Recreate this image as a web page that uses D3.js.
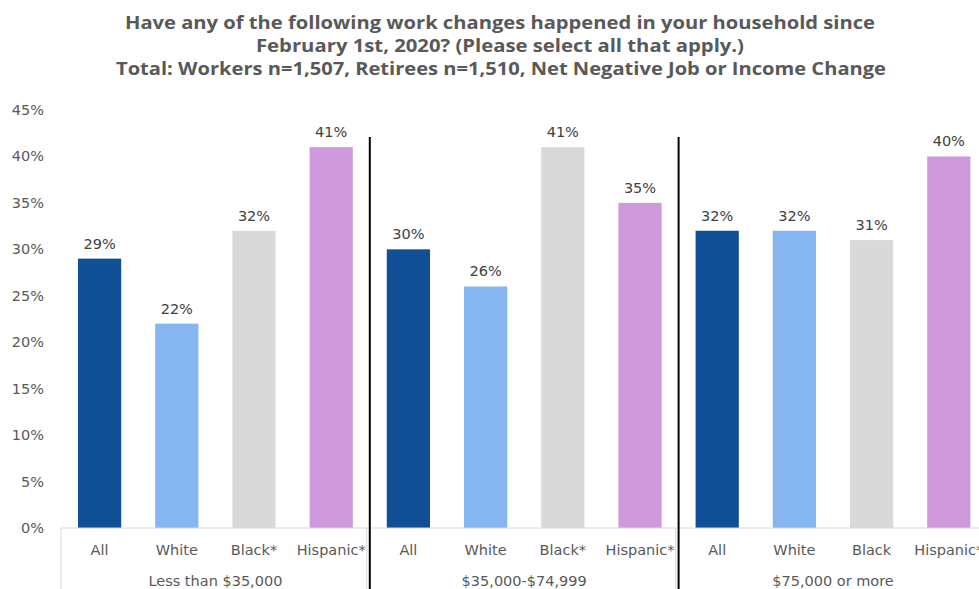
<!DOCTYPE html>
<html><head><meta charset="utf-8">
<script src="https://cdn.jsdelivr.net/npm/d3@7"></script>
<style>body{margin:0;background:#fff;} svg{display:block;font-family:"DejaVu Sans",sans-serif;}</style>
</head><body>
<svg id="c" width="979" height="589"></svg>
<script>
const titleLines = ["Have any of the following work changes happened in your household since","February 1st, 2020? (Please select all that apply.)","Total: Workers n=1,507, Retirees n=1,510, Net Negative Job or Income Change"];
const titleWidths = [750, 488, 770];
const groups = ["Less than $35,000","$35,000-$74,999","$75,000 or more"];
const subLabels = [["All","White","Black*","Hispanic*"],["All","White","Black*","Hispanic*"],["All","White","Black","Hispanic*"]];
const seriesKeys = ["All","White","Black","Hispanic"];
const values = [[29,22,32,41],[30,26,41,35],[32,32,31,40]];
const colors = ["#104E96","#85B6F0","#D9D9D9","#CE9ADC"];
const yTicks = [0,5,10,15,20,25,30,35,40,45];

const svg = d3.select("#c");
const left = 61, bandW = 77.2;
const cats = [];
groups.forEach((g,gi)=>subLabels[gi].forEach((s,si)=>cats.push({g:gi,s:si,label:s,v:values[gi][si],id:gi+"-"+si})));
const x = d3.scaleBand().domain(cats.map(d=>d.id)).range([left,left+bandW*cats.length]).paddingInner(0.44).paddingOuter(0.22);
const y = d3.scaleLinear().domain([0,45]).range([528,110]);

// title
svg.append("g").selectAll("text").data(titleLines).join("text")
  .attr("x",(d,i)=>[125,256,116][i]).attr("y",(d,i)=>29+i*23)
  .attr("textLength",(d,i)=>titleWidths[i]).attr("lengthAdjust","spacingAndGlyphs")
  .attr("font-family","'Open Sans',sans-serif")
  .attr("font-size",18.5).attr("font-weight","bold").attr("fill","#595959").text(d=>d);

// y axis labels
svg.append("g").selectAll("text").data(yTicks).join("text")
  .attr("x",44).attr("y",d=>y(d)+5).attr("text-anchor","end")
  .attr("font-size",14.5).attr("fill","#595959").text(d=>d+"%");

// bars
svg.append("g").selectAll("rect").data(cats).join("rect")
  .attr("x",d=>x(d.id)).attr("width",x.bandwidth())
  .attr("y",d=>y(d.v)).attr("height",d=>y(0)-y(d.v))
  .attr("fill",d=>colors[d.s]);

// value labels
svg.append("g").selectAll("text").data(cats).join("text")
  .attr("x",d=>x(d.id)+x.bandwidth()/2).attr("y",d=>y(d.v)-10).attr("text-anchor","middle")
  .attr("font-size",14.5).attr("fill","#404040").text(d=>d.v+"%");

// axis line
svg.append("line").attr("x1",left).attr("x2",979).attr("y1",y(0)).attr("y2",y(0)).attr("stroke","#D9D9D9").attr("stroke-width",1);
// group boundaries (light)
[0,1,2,3].forEach(i=>{
  const xx = left + i*4*bandW - (i>0?3:0);
  svg.append("line").attr("x1",xx).attr("x2",xx).attr("y1",y(0)).attr("y2",589).attr("stroke","#D9D9D9");
});
// category labels
svg.append("g").selectAll("text").data(cats).join("text")
  .attr("x",d=>x(d.id)+x.bandwidth()/2).attr("y",555).attr("text-anchor","middle")
  .attr("font-size",14.5).attr("fill","#595959").text(d=>d.label);
// group labels
svg.append("g").selectAll("text").data(groups).join("text")
  .attr("x",(d,i)=>left+(i*4+2)*bandW).attr("y",586).attr("text-anchor","middle")
  .attr("font-size",14.5).attr("fill","#595959").text(d=>d);
// black separators
[1,2].forEach(i=>{
  const xx = left + i*4*bandW;
  svg.append("line").attr("x1",xx).attr("x2",xx).attr("y1",137).attr("y2",589).attr("stroke","#000").attr("stroke-width",2);
});
</script>
</body></html>
